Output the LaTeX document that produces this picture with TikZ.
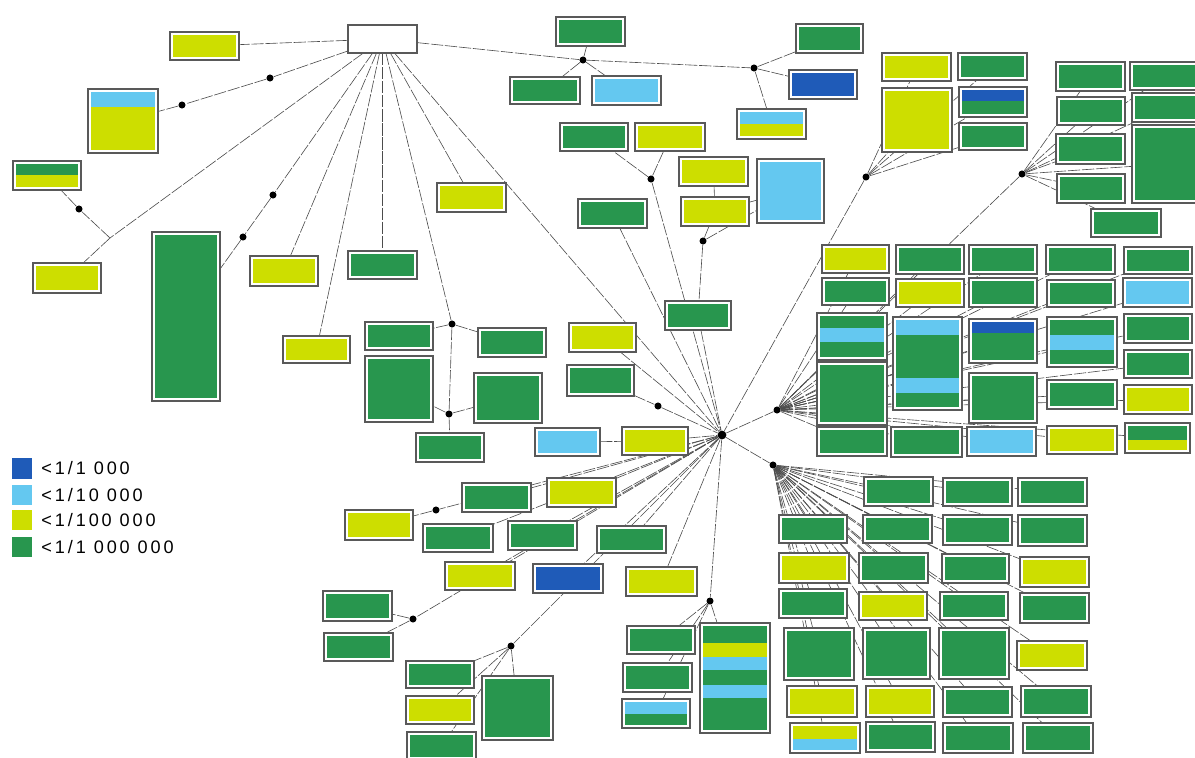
\documentclass[tikz,border=0pt]{standalone}
\usepackage{fontspec}
\setmainfont{Liberation Sans}
\newfontfamily\legfont{Liberation Sans}[LetterSpace=16]
\usetikzlibrary{fit,positioning}
\definecolor{dblue}{RGB}{31,91,184}
\definecolor{lblue}{RGB}{100,200,240}
\definecolor{lime}{RGB}{205,222,0}
\definecolor{leaf}{RGB}{40,150,78}
\pgfdeclarelayer{background}
\pgfsetlayers{background,main}
\tikzset{
  cell/.style={draw=black!65, line width=0.6pt, fill=white, inner sep=0pt, outer sep=0pt,
    path picture={\fill[#1] ([shift={(3,3)}]path picture bounding box.north west)
      rectangle ([shift={(-3,-3)}]path picture bounding box.south east);}},
  knot/.style={circle, fill=black, inner sep=0pt, minimum size=4pt},
  link/.style={draw=black!70, line width=0.35pt, dash pattern=on 7pt off 1pt},
  key/.style={fill=#1, inner sep=0pt},
  legend/.style={font=\legfont\fontsize{10.3}{12}\selectfont, inner sep=0pt},
}
\begin{document}
\begin{tikzpicture}[x=0.02cm,y=-0.02cm]
  \useasboundingbox (0,0) rectangle (1195,757);
  % boxes, left and top
  \foreach \nm/\xa/\ya/\xb/\yb/\col in {
    root/348/25/417/53/white, tA/170/32/239/60/lime, tB/88/89/158/153/lime,
    tC/13/161/81/190/lime, tD/33/263/101/293/lime, tE/152/232/220/401/leaf,
    tF/250/256/318/286/lime, tG/348/251/417/279/leaf, tH/437/183/506/212/lime,
    tI/283/336/350/363/lime,
    mA/556/17/625/46/leaf, mB/510/77/580/104/leaf, mC/592/76/661/105/lblue,
    mD/796/24/863/53/leaf, mE/789/70/857/99/dblue, mF/737/109/806/139/lime,
    mG/560/123/628/151/leaf, mH/635/123/705/151/lime, mI/679/157/748/186/lime,
    mJ/681/197/749/226/lime, mK/757/159/824/223/lblue, mL/665/301/731/330/leaf,
    mM/578/199/647/228/leaf,
    cA/365/322/433/350/leaf, cB/478/328/546/357/leaf, cC/365/356/433/422/leaf,
    cD/474/373/542/423/leaf, cE/416/433/484/462/leaf, cF/569/323/636/352/lime,
    cG/567/365/634/396/leaf, cH/535/428/600/456/lblue, cI/622/427/688/455/lime}
    \node[cell=\col, fit={(\xa,\ya) (\xb,\yb)}] (\nm) {};
  % boxes, top right
  \foreach \nm/\xa/\ya/\xb/\yb/\col in {
    rA/882/53/951/81/lime, rB/882/88/952/152/lime, rC/958/53/1027/80/leaf,
    rD/959/87/1027/117/leaf, rE/959/123/1027/150/leaf,
    sA/1056/62/1125/91/leaf, sB/1130/62/1200/90/leaf, sC/1057/97/1125/125/leaf,
    sD/1132/93/1200/122/leaf, sE/1056/134/1125/164/leaf, sF/1132/125/1200/203/leaf,
    sG/1057/174/1125/203/leaf, sH/1091/209/1161/237/leaf}
    \node[cell=\col, fit={(\xa,\ya) (\xb,\yb)}] (\nm) {};
  % grid right of the hub
  \foreach \nm/\xa/\ya/\xb/\yb/\col in {
    gA1/822/245/889/273/lime, gA2/896/245/964/274/leaf, gA3/969/245/1037/274/leaf,
    gA4/1046/245/1115/274/leaf, gA5/1124/247/1192/274/leaf,
    gB1/822/278/889/305/leaf, gB2/896/279/964/307/lime, gB3/969/278/1037/307/leaf,
    gB4/1047/280/1115/307/leaf, gB5/1123/278/1192/307/lblue,
    gC1/817/313/887/360/leaf, gC2/893/317/962/410/leaf, gC3/969/319/1037/363/leaf,
    gC4/1047/317/1117/367/leaf, gC5/1124/314/1192/343/leaf,
    gD1/817/362/887/425/leaf, gD3/969/373/1037/423/leaf, gD4/1047/380/1117/409/leaf,
    gD5/1124/350/1192/378/leaf, gD6/1124/385/1192/414/lime,
    gE1/817/427/887/456/leaf, gE2/891/427/962/457/leaf, gE3/967/427/1036/456/lblue,
    gE4/1047/426/1117/454/lime, gE5/1125/423/1190/453/leaf}
    \node[cell=\col, fit={(\xa,\ya) (\xb,\yb)}] (\nm) {};
  % grid below right
  \foreach \nm/\xa/\ya/\xb/\yb/\col in {
    hA1/864/477/933/506/leaf, hA2/943/478/1012/506/leaf, hA3/1018/478/1087/506/leaf,
    hB1/779/515/847/543/leaf, hB2/863/515/932/543/leaf, hB3/943/515/1012/545/leaf,
    hB4/1018/515/1087/546/leaf,
    hC1/779/553/849/583/lime, hC2/859/553/928/583/leaf, hC3/942/554/1009/583/leaf,
    hC4/1020/557/1089/587/lime,
    hD1/779/589/847/618/leaf, hD2/859/592/927/620/lime, hD3/940/592/1008/620/leaf,
    hD4/1020/593/1089/623/leaf,
    hE1/784/628/854/680/leaf, hE2/863/628/930/679/leaf, hE3/939/628/1009/679/leaf,
    hE4/1017/641/1087/670/lime,
    hF1/787/686/857/717/lime, hF2/866/686/934/717/lime, hF3/943/687/1012/717/leaf,
    hF4/1021/686/1091/717/leaf,
    hG1/790/723/860/753/lblue, hG2/866/722/935/752/leaf, hG3/943/723/1013/753/leaf,
    hG4/1023/723/1093/753/leaf}
    \node[cell=\col, fit={(\xa,\ya) (\xb,\yb)}] (\nm) {};
  % boxes below left
  \foreach \nm/\xa/\ya/\xb/\yb/\col in {
    pA/462/483/531/512/leaf, pB/547/478/616/507/lime, pC/345/510/413/540/lime,
    pD/423/524/493/552/leaf, pE/508/521/577/550/leaf, pF/597/526/666/553/leaf,
    pG/445/562/515/590/lime, pH/533/564/603/593/dblue, pI/626/567/697/596/lime,
    pJ/323/591/392/621/leaf, pK/324/633/393/661/leaf,
    qA/406/661/474/688/leaf, qB/406/696/474/724/lime, qC/407/732/476/760/leaf,
    qD/482/676/553/740/leaf,
    wA/627/626/695/654/leaf, wB/623/663/692/692/leaf, wC/622/699/690/728/leaf,
    wD/700/623/770/733/leaf}
    \node[cell=\col, fit={(\xa,\ya) (\xb,\yb)}] (\nm) {};
  % stripes inside some boxes
  \fill[lblue] (91,92) rectangle (155,107);
  \fill[leaf] (16,164) rectangle (78,175);
  \fill[lblue] (740,112) rectangle (803,124);
  \fill[dblue] (962,90) rectangle (1024,101);
  \fill[lblue] (820,328) rectangle (884,342);
  \fill[lblue] (896,320) rectangle (959,335);
  \fill[lblue] (896,378) rectangle (959,393);
  \fill[dblue] (972,322) rectangle (1034,333);
  \fill[lblue] (1050,335) rectangle (1114,350);
  \fill[lime] (1128,440) rectangle (1187,450);
  \fill[lime] (793,726) rectangle (857,739);
  \fill[lblue] (625,702) rectangle (687,714);
  \fill[lime] (703,643) rectangle (767,657);
  \fill[lblue] (703,657) rectangle (767,670);
  \fill[lblue] (703,685) rectangle (767,698);
  % branch points
  \foreach \nm/\x/\y in {dA/270/78, dB/182/105, dC/79/209, dE1/273/195, dE2/243/237,
    dT1/583/60, dT2/754/68, dG/651/179, dJ/703/241, dM1/452/324, dM2/449/414,
    dH/658/406, dR1/866/177, dR2/1022/174, dP/436/510, dQ/413/619, dV/511/646,
    dW/710/601, hubR/777/410, hubS/773/465}
    \node[knot] (\nm) at (\x,\y) {};
  \node[knot, minimum size=5pt] (hub) at (722,435) {};
  \coordinate (jC) at (110,238);
  % connectors behind the boxes
  \begin{pgfonlayer}{background}
    \foreach \p/\q in {root/tA, root/dA, dA/dB, dB/tB, root/jC, jC/tD, jC/dC, dC/tC,
      root/dE1, dE1/dE2, dE2/tE, root/tF, root/tG, root/tI, root/tH, root/dM1,
      root/hub, root/dT1, dT1/dT2, dT1/mA, dT1/mB, dT1/mC, dT2/mD, dT2/mE, dT2/mF,
      dG/mG, dG/mH, dG/hub, mI/mJ, mJ/mK, dJ/mJ, dJ/mK, dJ/mL, mL/hub, mM/hub,
      dM1/cA, dM1/cB, dM1/dM2, dM2/cC, dM2/cD, dM2/cE, cF/hub, cG/dH, dH/hub,
      cH/cI, cI/hub, dR1/hub, dR2/hubR, hub/hubR, hub/hubS,
      hub/pA, hub/pB, hub/dP, dP/pC, hub/pD, hub/pE, hub/pF, hub/pG, hub/pH,
      hub/pI, hub/dQ, dQ/pJ, dQ/pK, hub/dV, dV/qA, dV/qB, dV/qC, dV/qD,
      hub/dW, dW/wA, dW/wB, dW/wC, dW/wD}
      \draw[link] (\p) -- (\q);
    \foreach \q in {rA, rB, rC, rD, rE}
      \draw[link] (dR1) -- (\q);
    \foreach \q in {sA, sB, sC, sD, sE, sF, sG, sH}
      \draw[link] (dR2) -- (\q);
    \foreach \q in {gA1, gA2, gA3, gA4, gA5, gB1, gB2, gB3, gB4, gB5, gC1, gC2, gC3,
      gC4, gC5, gD1, gD3, gD4, gD5, gD6, gE1, gE2, gE3, gE4, gE5}
      \draw[link] (hubR) -- (\q);
    \foreach \q in {hA1, hA2, hA3, hB1, hB2, hB3, hB4, hC1, hC2, hC3, hC4, hD1, hD2,
      hD3, hD4, hE1, hE2, hE3, hE4, hF1, hF2, hF3, hF4, hG1, hG2, hG3, hG4}
      \draw[link] (hubS) -- (\q);
  \end{pgfonlayer}
  % legend
  \node[key=dblue, fit={(12,458) (32,479)}] (k1) {};
  \node[key=lblue, fit={(12,485) (32,505)}] (k2) {};
  \node[key=lime, fit={(12,510) (32,530)}] (k3) {};
  \node[key=leaf, fit={(12,537) (32,557)}] (k4) {};
  \node[legend, right=5pt of k1] (l1) {<1/1 000};
  \node[legend, right=5pt of k2] (l2) {<1/10 000};
  \node[legend, right=5pt of k3] (l3) {<1/100 000};
  \node[legend, right=5pt of k4] (l4) {<1/1 000 000};
\end{tikzpicture}
\end{document}
